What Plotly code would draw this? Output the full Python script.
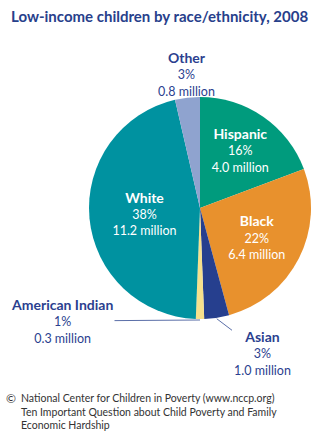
import math
import plotly.graph_objects as go

# Low-income children by race/ethnicity, 2008
groups = ["Hispanic", "Black", "Asian", "American Indian", "White", "Other"]
shares = [16, 22, 3, 1, 38, 3]                    # percent
millions = ["4.0", "6.4", "1.0", "0.3", "11.2", "0.8"]
colors = ["#009B7D", "#E8912D", "#263F8E", "#F6E08C", "#0092A0", "#8FA3CF"]
inside = ["Hispanic", "Black", "White"]           # labelled inside their slices

source_lines = [
    "National Center for Children in Poverty (www.nccp.org)",
    "Ten Important Question about Child Poverty and Family",
    "Economic Hardship",
]

W, H = 328, 433
NAVY = "#2B3F8F"
FONT = "Lato"

# pie placement (pixels)
CX, CY, R = 200, 208, 111
dom_x = [(CX - R) / W, (CX + R) / W]
dom_y = [(H - CY - R) / H, (H - CY + R) / H]


def label_html(name):
    i = groups.index(name)
    return (f"<span style='font-size:14px'><b>{name}</b></span>"
            f"<br>{shares[i]}%<br>{millions[i]} million")


texts = [label_html(g) if g in inside else "" for g in groups]

fig = go.Figure(go.Pie(
    labels=groups,
    values=shares,
    text=texts,
    textinfo="text",
    textposition=["inside" if g in inside else "none" for g in groups],
    insidetextorientation="horizontal",
    insidetextfont=dict(family=FONT, size=12.5, color="white"),
    marker=dict(colors=colors, line=dict(width=0)),
    sort=False,
    direction="clockwise",
    rotation=0,
    hole=0,
    domain=dict(x=dom_x, y=dom_y),
    showlegend=False,
    hoverinfo="label+percent",
))


def rim_pixel(name):
    """Pixel position of the outer edge at the middle of a slice."""
    total = sum(shares)
    i = groups.index(name)
    start = sum(shares[:i]) / total
    mid = (start + shares[i] / total / 2) * 2 * math.pi
    return CX + R * math.sin(mid), CY - R * math.cos(mid)


annotations = []

# "Other" sits right above its slice
annotations.append(dict(
    x=187 / W, y=1 - 74 / H, xref="paper", yref="paper",
    xanchor="center", yanchor="middle",
    text=label_html("Other"), showarrow=False,
    font=dict(family=FONT, size=12.5, color=NAVY), align="center",
))

# small slices at the bottom get leader lines
for name, tx, ty in [("American Indian", 62, 320), ("Asian", 262, 352)]:
    px, py = rim_pixel(name)
    annotations.append(dict(
        x=px / W, y=1 - (py + 1) / H, xref="paper", yref="paper",
        ax=tx - px, ay=ty - py, axref="pixel", ayref="pixel",
        text=label_html(name), showarrow=True, arrowhead=0,
        arrowwidth=1, arrowcolor="#5B6FA8", standoff=0,
        font=dict(family=FONT, size=12.5, color=NAVY), align="center",
    ))

# title
annotations.append(dict(
    x=9 / W, y=1 - 16 / H, xref="paper", yref="paper",
    xanchor="left", yanchor="middle",
    text="<b>Low-income children by race/ethnicity, 2008</b>",
    showarrow=False, font=dict(family=FONT, size=15, color="#27408B"),
))

# source note
annotations.append(dict(
    x=4 / W, y=1 - 398 / H, xref="paper", yref="paper",
    xanchor="left", yanchor="middle", text="©", showarrow=False,
    font=dict(family=FONT, size=12, color="#333333"),
))
annotations.append(dict(
    x=20 / W, y=1 - 411 / H, xref="paper", yref="paper",
    xanchor="left", yanchor="middle", align="left", showarrow=False,
    borderpad=0, text="<br>".join(source_lines),
    font=dict(family=FONT, size=10.5, color="#333333"),
))

fig.update_layout(
    width=W, height=H,
    margin=dict(l=0, r=0, t=0, b=0),
    paper_bgcolor="white", plot_bgcolor="white",
    annotations=annotations,
)

fig.write_html("out.html")
